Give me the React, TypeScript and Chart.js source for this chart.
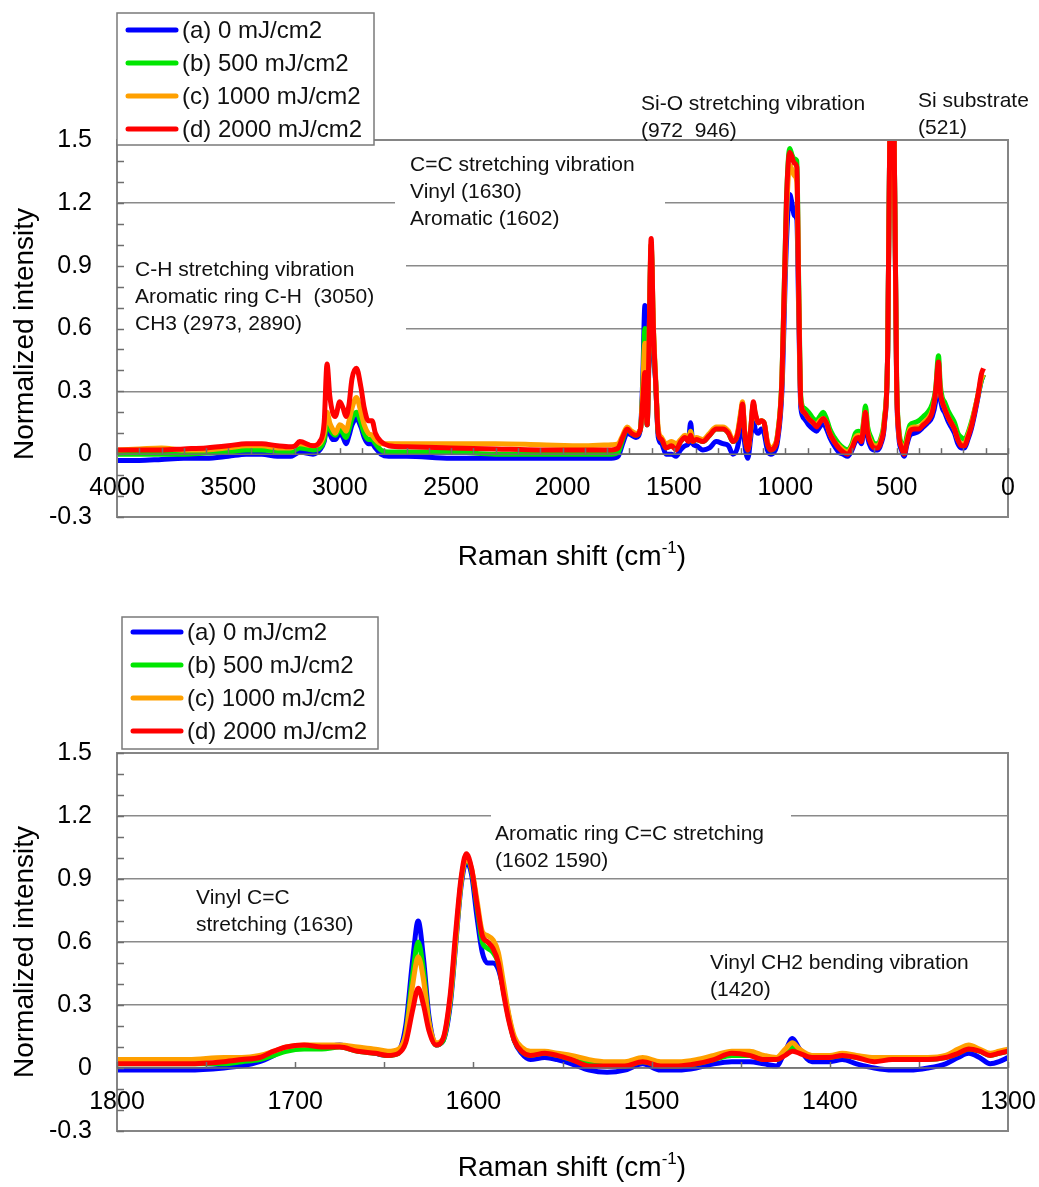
import React, { useEffect, useRef } from "react";
import { Chart, registerables } from "chart.js";
Chart.register(...registerables);

const FONT = '"Liberation Sans", Arial, Helvetica, sans-serif';

const SERIES_LABELS = ["(a) 0 mJ/cm2", "(b) 500 mJ/cm2", "(c) 1000 mJ/cm2", "(d) 2000 mJ/cm2"];
const SERIES_COLORS = ["#0000ff", "#00e600", "#ffa000", "#ff0000"];

// ---------- Top chart: full range (cm-1) ----------
const TOP_X = [
  4000, 3900, 3800, 3700, 3600, 3500, 3420, 3350, 3280, 3220,
  3200, 3180, 3120, 3090, 3070, 3057, 3045, 3032, 3020, 3000,
  2985, 2972, 2958, 2945, 2925, 2905, 2890, 2872, 2855, 2840,
  2815, 2780, 2700, 2500, 2300, 2100, 1900, 1780, 1750, 1730,
  1710, 1690, 1670, 1650, 1640, 1630, 1620, 1612, 1602, 1592,
  1582, 1570, 1555, 1535, 1510, 1490, 1470, 1450, 1435, 1425,
  1415, 1400, 1370, 1340, 1310, 1280, 1255, 1235, 1215, 1200,
  1192, 1182, 1168, 1155, 1143, 1135, 1120, 1108, 1095, 1080,
  1065, 1050, 1035, 1015, 995, 980, 970, 960, 948, 940,
  930, 915, 895, 875, 860, 845, 830, 815, 800, 780,
  760, 740, 720, 700, 685, 670, 658, 648, 640, 630,
  615, 600, 585, 570, 555, 540, 530, 521, 512, 500,
  490, 478, 466, 455, 440, 420, 400, 380, 360, 340,
  325, 312, 304, 295, 285, 270, 255, 240, 225, 210,
  195, 180, 165, 150, 135, 120, 110,
];
const TOP_A = [
  -0.03, -0.03, -0.025, -0.02, -0.02, -0.01, 0.0, 0.0, -0.01, -0.01,
  0.0, 0.01, 0.0, 0.02, 0.06, 0.13, 0.1, 0.07, 0.07, 0.1,
  0.08, 0.05, 0.09, 0.14, 0.17, 0.13, 0.08, 0.05, 0.05, 0.03,
  0.0, -0.01, -0.01, -0.02, -0.02, -0.02, -0.02, -0.02, -0.01, 0.05,
  0.1, 0.09, 0.08, 0.12, 0.35, 0.71, 0.14, 0.45, 0.98, 0.5,
  0.35, 0.08, 0.05, 0.0, 0.0, -0.01, 0.02, 0.04, 0.05, 0.15,
  0.05, 0.04, 0.02, 0.03, 0.06, 0.05, 0.04, 0.0, 0.03, 0.12,
  0.18, 0.05, -0.02, 0.08, 0.18, 0.12, 0.1, 0.12, 0.1, 0.02,
  0.0, 0.01, 0.06, 0.3, 1.0, 1.24, 1.2, 1.14, 1.12, 0.7,
  0.22, 0.17, 0.14, 0.12, 0.11, 0.13, 0.15, 0.12, 0.08, 0.04,
  0.01, 0.0, -0.01, 0.02, 0.06, 0.07, 0.05, 0.12, 0.17, 0.08,
  0.03, 0.02, 0.02, 0.05, 0.14, 0.5, 1.6, 3.0, 1.6, 0.33,
  0.08, 0.02, -0.01, 0.04, 0.09, 0.1, 0.11, 0.13, 0.15, 0.18,
  0.25, 0.38, 0.27, 0.22, 0.2, 0.16, 0.13, 0.1, 0.05, 0.03,
  0.03, 0.07, 0.12, 0.19, 0.27, 0.35, 0.38,
];
const TOP_B = [
  0.0, 0.0, 0.0, 0.0, 0.005, 0.01, 0.02, 0.02, 0.015, 0.01,
  0.02, 0.03, 0.02, 0.03, 0.07, 0.15, 0.12, 0.1, 0.09, 0.12,
  0.1, 0.08, 0.12, 0.17, 0.2, 0.15, 0.1, 0.07, 0.07, 0.05,
  0.02, 0.01, 0.01, 0.01, 0.0, 0.0, 0.0, 0.0, 0.01, 0.07,
  0.12, 0.1, 0.09, 0.12, 0.3, 0.6, 0.14, 0.48, 1.0, 0.6,
  0.35, 0.1, 0.07, 0.03, 0.04, 0.03, 0.06, 0.08, 0.07, 0.11,
  0.06, 0.07, 0.06, 0.09, 0.12, 0.12, 0.1, 0.06, 0.09, 0.19,
  0.24, 0.1, 0.02, 0.12, 0.24, 0.19, 0.15, 0.16, 0.15, 0.05,
  0.02, 0.03, 0.09, 0.36, 1.2, 1.46, 1.43, 1.41, 1.4, 0.85,
  0.27, 0.22, 0.2, 0.17, 0.16, 0.18, 0.2, 0.17, 0.12, 0.08,
  0.05, 0.03, 0.02, 0.05, 0.1, 0.11, 0.09, 0.16, 0.23, 0.13,
  0.08, 0.05, 0.05, 0.08, 0.17, 0.5, 1.6, 3.0, 1.6, 0.36,
  0.12, 0.05, 0.02, 0.08, 0.14, 0.15, 0.16, 0.18, 0.2, 0.24,
  0.31, 0.47, 0.33, 0.27, 0.25, 0.21, 0.18, 0.15, 0.1, 0.08,
  0.07, 0.1, 0.15, 0.21, 0.28, 0.35, 0.38,
];
const TOP_C = [
  0.02, 0.025, 0.03, 0.02, 0.02, 0.03, 0.04, 0.04, 0.03, 0.03,
  0.04, 0.05, 0.04, 0.05, 0.1, 0.2, 0.15, 0.12, 0.1, 0.14,
  0.13, 0.11, 0.16, 0.22, 0.27, 0.2, 0.14, 0.1, 0.09, 0.07,
  0.05, 0.05, 0.05, 0.05, 0.05, 0.045, 0.04, 0.045, 0.05, 0.09,
  0.13, 0.11, 0.1, 0.12, 0.3, 0.53, 0.15, 0.5, 1.0, 0.62,
  0.37, 0.12, 0.08, 0.05, 0.06, 0.05, 0.07, 0.09, 0.07, 0.11,
  0.07, 0.08, 0.07, 0.1, 0.13, 0.13, 0.11, 0.07, 0.1, 0.2,
  0.25, 0.11, 0.03, 0.12, 0.24, 0.19, 0.15, 0.16, 0.15, 0.06,
  0.03, 0.04, 0.09, 0.35, 1.12, 1.38, 1.36, 1.33, 1.3, 0.78,
  0.25, 0.2, 0.17, 0.15, 0.14, 0.16, 0.17, 0.15, 0.1, 0.06,
  0.04, 0.02, 0.01, 0.04, 0.08, 0.09, 0.07, 0.15, 0.2, 0.11,
  0.06, 0.04, 0.04, 0.07, 0.16, 0.5, 1.6, 3.0, 1.6, 0.35,
  0.1, 0.04, 0.01, 0.06, 0.12, 0.13, 0.13, 0.15, 0.17, 0.21,
  0.29, 0.42, 0.3, 0.25, 0.22, 0.18, 0.15, 0.12, 0.07, 0.05,
  0.05, 0.09, 0.14, 0.21, 0.28, 0.36, 0.38,
];
const TOP_D = [
  0.02, 0.02, 0.02, 0.025, 0.03, 0.04, 0.05, 0.05, 0.04, 0.035,
  0.04, 0.06, 0.04, 0.06, 0.15, 0.43, 0.28, 0.2, 0.18, 0.25,
  0.22, 0.18, 0.24, 0.36, 0.41, 0.32, 0.22, 0.16, 0.16, 0.1,
  0.06, 0.04, 0.035, 0.03, 0.025, 0.02, 0.02, 0.02, 0.03, 0.08,
  0.12, 0.1, 0.09, 0.12, 0.25, 0.39, 0.14, 0.5, 1.03, 0.6,
  0.35, 0.1, 0.07, 0.03, 0.04, 0.02, 0.06, 0.08, 0.06, 0.09,
  0.06, 0.07, 0.06, 0.09, 0.12, 0.12, 0.1, 0.06, 0.09, 0.18,
  0.24, 0.1, 0.02, 0.12, 0.25, 0.2, 0.15, 0.16, 0.15, 0.05,
  0.02, 0.03, 0.08, 0.35, 1.2, 1.44, 1.42, 1.39, 1.37, 0.8,
  0.25, 0.2, 0.17, 0.15, 0.13, 0.15, 0.17, 0.15, 0.1, 0.06,
  0.03, 0.01, 0.0, 0.03, 0.07, 0.08, 0.06, 0.14, 0.2, 0.1,
  0.05, 0.03, 0.03, 0.06, 0.15, 0.5, 1.6, 3.0, 1.6, 0.35,
  0.1, 0.03, 0.0, 0.05, 0.11, 0.12, 0.12, 0.14, 0.16, 0.2,
  0.3, 0.44, 0.3, 0.25, 0.22, 0.18, 0.15, 0.12, 0.07, 0.04,
  0.04, 0.08, 0.13, 0.2, 0.28, 0.38, 0.41,
];
const TOP_X_LABELS = [4000, 3500, 3000, 2500, 2000, 1500, 1000, 500, 0];

// ---------- Bottom chart: 1800-1300 cm-1 ----------
const BOT_X = [
  1800, 1780, 1760, 1740, 1730, 1720, 1712, 1705, 1695, 1685,
  1675, 1665, 1655, 1648, 1642, 1638, 1634, 1631, 1628, 1625,
  1621, 1617, 1613, 1610, 1607, 1604, 1601, 1598, 1595, 1592,
  1589, 1586, 1583, 1580, 1577, 1573, 1568, 1560, 1553, 1545,
  1535, 1525, 1515, 1505, 1495, 1485, 1475, 1465, 1455, 1445,
  1437, 1430, 1425, 1421, 1417, 1410, 1400, 1393, 1385, 1375,
  1365, 1355, 1345, 1335, 1328, 1322, 1316, 1310, 1305, 1300,
];
const BOT_A = [
  -0.01, -0.01, -0.01, 0.0, 0.01, 0.03, 0.06, 0.09, 0.1, 0.1,
  0.11, 0.09, 0.07, 0.06, 0.08, 0.2, 0.52, 0.7, 0.52, 0.25,
  0.11, 0.13, 0.3, 0.58, 0.86, 0.98, 0.92, 0.72, 0.55, 0.5,
  0.5, 0.47, 0.37, 0.24, 0.13, 0.07, 0.04, 0.05, 0.04, 0.02,
  -0.01, -0.02, -0.01, 0.02, -0.01, -0.01, 0.0, 0.02, 0.03, 0.03,
  0.02, 0.01, 0.08, 0.14, 0.09, 0.03, 0.03, 0.04, 0.02, 0.0,
  -0.01, -0.01, 0.0, 0.02, 0.05, 0.07, 0.05, 0.02, 0.03, 0.05,
];
const BOT_B = [
  0.02, 0.02, 0.02, 0.02, 0.03, 0.04, 0.06, 0.08, 0.09, 0.09,
  0.1, 0.08, 0.07, 0.06, 0.07, 0.16, 0.45, 0.6, 0.46, 0.22,
  0.11, 0.13, 0.32, 0.6, 0.88, 1.0, 0.94, 0.77, 0.6, 0.57,
  0.55, 0.5, 0.36, 0.23, 0.13, 0.08, 0.06, 0.07, 0.06, 0.04,
  0.02, 0.01, 0.01, 0.03, 0.01, 0.01, 0.02, 0.04, 0.06, 0.06,
  0.04, 0.04, 0.07, 0.1, 0.08, 0.05, 0.05, 0.06, 0.05, 0.04,
  0.04, 0.04, 0.04, 0.05, 0.07, 0.09, 0.08, 0.06, 0.07, 0.08,
];
const BOT_C = [
  0.04, 0.04, 0.04, 0.05, 0.05, 0.06, 0.08, 0.1, 0.11, 0.11,
  0.11, 0.1, 0.09, 0.08, 0.09, 0.16, 0.4, 0.53, 0.42, 0.22,
  0.12, 0.14, 0.33, 0.6, 0.88, 1.0, 0.95, 0.8, 0.65, 0.63,
  0.61, 0.55, 0.4, 0.25, 0.15, 0.1, 0.08, 0.08, 0.07, 0.06,
  0.04, 0.03, 0.03, 0.05, 0.03, 0.03, 0.04, 0.06, 0.08, 0.08,
  0.06, 0.05, 0.09, 0.12, 0.09, 0.06, 0.06, 0.07, 0.06, 0.05,
  0.05, 0.05, 0.05, 0.06, 0.09, 0.11, 0.09, 0.07, 0.08, 0.09,
];
const BOT_D = [
  0.02, 0.02, 0.02, 0.03, 0.04, 0.05, 0.08, 0.1, 0.11, 0.1,
  0.1, 0.08, 0.07, 0.06, 0.07, 0.12, 0.28, 0.38, 0.3, 0.18,
  0.11, 0.14, 0.35, 0.64, 0.9, 1.02, 0.95, 0.78, 0.63, 0.6,
  0.57, 0.5, 0.35, 0.22, 0.13, 0.08, 0.06, 0.07, 0.06, 0.04,
  0.01, 0.01, 0.01, 0.03, 0.01, 0.01, 0.02, 0.04, 0.07, 0.06,
  0.04, 0.04, 0.06, 0.08, 0.07, 0.05, 0.05, 0.06, 0.05, 0.03,
  0.04, 0.04, 0.04, 0.05, 0.07, 0.09, 0.08, 0.06, 0.07, 0.08,
];
const BOT_X_LABELS = [1800, 1700, 1600, 1500, 1400, 1300];

const Y_MIN = -0.3;
const Y_MAX = 1.5;
const Y_STEP = 0.3;

const TOP_NOTES = [
  { x: 135, y: 270, lines: ["C-H stretching vibration", "Aromatic ring C-H  (3050)", "CH3 (2973, 2890)"] },
  { x: 410, y: 165, lines: ["C=C stretching vibration", "Vinyl (1630)", "Aromatic (1602)"] },
  { x: 641, y: 104, lines: ["Si-O stretching vibration", "(972  946)"] },
  { x: 918, y: 101, lines: ["Si substrate", "(521)"] },
];
const BOT_NOTES = [
  { x: 196, y: 308, lines: ["Vinyl C=C", "stretching (1630)"] },
  { x: 495, y: 244, lines: ["Aromatic ring C=C stretching", "(1602 1590)"] },
  { x: 710, y: 373, lines: ["Vinyl CH2 bending vibration", "(1420)"] },
];

type Cfg = {
  height: number;
  padTop: number;
  padBottom: number;
  xMin: number;
  xMax: number;
  xMinor: number;
  xLabels: number[];
  xs: number[];
  ys: number[][];
  notes: { x: number; y: number; lines: string[] }[];
  boxes: number[][];
  legend: { x: number; y: number; w: number; h: number; rows: number[]; lx: number };
  yTitle: { x: number; y: number };
  xTitle: { x: number; y: number };
};

const TOP_CFG: Cfg = {
  height: 590,
  padTop: 140,
  padBottom: 73,
  xMin: 0,
  xMax: 4000,
  xMinor: 100,
  xLabels: TOP_X_LABELS,
  xs: TOP_X,
  ys: [TOP_A, TOP_B, TOP_C, TOP_D],
  notes: TOP_NOTES,
  boxes: [
    [118, 256, 288, 82],
    [395, 151, 270, 82],
  ],
  legend: { x: 117, y: 13, w: 257, h: 132, rows: [30, 63, 96, 129], lx: 128 },
  yTitle: { x: 25, y: 334 },
  xTitle: { x: 572, y: 557 },
};

const BOT_CFG: Cfg = {
  height: 597,
  padTop: 163,
  padBottom: 56,
  xMin: 1300,
  xMax: 1800,
  xMinor: 50,
  xLabels: BOT_X_LABELS,
  xs: BOT_X,
  ys: [BOT_A, BOT_B, BOT_C, BOT_D],
  notes: BOT_NOTES,
  boxes: [[491, 221, 300, 56]],
  legend: { x: 122, y: 27, w: 256, h: 132, rows: [42, 75, 108, 141], lx: 133 },
  yTitle: { x: 25, y: 362 },
  xTitle: { x: 572, y: 578 },
};

function line(ctx: CanvasRenderingContext2D, x1: number, y1: number, x2: number, y2: number) {
  ctx.beginPath();
  ctx.moveTo(x1, y1);
  ctx.lineTo(x2, y2);
  ctx.stroke();
}

function decor(cfg: Cfg) {
  return {
    id: "decor",
    beforeDatasetsDraw(chart: any) {
      const ctx = chart.ctx as CanvasRenderingContext2D;
      ctx.save();
      ctx.fillStyle = "#ffffff";
      cfg.boxes.forEach((b) => ctx.fillRect(b[0], b[1], b[2], b[3]));
      ctx.restore();
    },
    afterDatasetsDraw(chart: any) {
      const ctx = chart.ctx as CanvasRenderingContext2D;
      const ca = chart.chartArea;
      const xs = chart.scales.x;
      const ys = chart.scales.y;
      ctx.save();
      // frame
      ctx.strokeStyle = "#858585";
      ctx.lineWidth = 2;
      ctx.strokeRect(ca.left, ca.top, ca.right - ca.left, ca.bottom - ca.top);
      // zero axis line
      const y0 = ys.getPixelForValue(0);
      ctx.strokeStyle = "#6e6e6e";
      ctx.lineWidth = 1.5;
      line(ctx, ca.left, y0, ca.right, y0);
      // x minor ticks (inward, up)
      for (let v = cfg.xMin; v <= cfg.xMax; v += cfg.xMinor) {
        const px = Math.round(xs.getPixelForValue(v)) + 0.5;
        line(ctx, px, y0, px, y0 - 6);
      }
      // y minor ticks (inward, right)
      for (let k = Math.round(Y_MIN * 10); k <= Math.round(Y_MAX * 10); k++) {
        const py = Math.round(ys.getPixelForValue(k / 10)) + 0.5;
        line(ctx, ca.left, py, ca.left + 7, py);
      }
      // x tick labels on the zero line
      ctx.fillStyle = "#000";
      ctx.font = `25px ${FONT}`;
      ctx.textAlign = "center";
      ctx.textBaseline = "middle";
      cfg.xLabels.forEach((v) => ctx.fillText(String(v), xs.getPixelForValue(v), y0 + 34));
      // annotations
      ctx.fillStyle = "#111";
      ctx.font = `21px ${FONT}`;
      ctx.textAlign = "left";
      cfg.notes.forEach((n) => n.lines.forEach((t, i) => ctx.fillText(t, n.x, n.y + i * 27)));
      // y title
      ctx.save();
      ctx.translate(cfg.yTitle.x, cfg.yTitle.y);
      ctx.rotate(-Math.PI / 2);
      ctx.font = `28px ${FONT}`;
      ctx.fillStyle = "#000";
      ctx.textAlign = "center";
      ctx.textBaseline = "middle";
      ctx.fillText("Normalized intensity", 0, 0);
      ctx.restore();
      // x title with superscript
      ctx.fillStyle = "#000";
      ctx.textBaseline = "middle";
      ctx.textAlign = "left";
      const big = `28px ${FONT}`;
      const small = `17px ${FONT}`;
      const p1 = "Raman shift (cm";
      const p2 = "-1";
      const p3 = ")";
      ctx.font = big;
      const w1 = ctx.measureText(p1).width;
      const w3 = ctx.measureText(p3).width;
      ctx.font = small;
      const w2 = ctx.measureText(p2).width;
      let tx = cfg.xTitle.x - (w1 + w2 + w3) / 2;
      ctx.font = big;
      ctx.fillText(p1, tx, cfg.xTitle.y);
      tx += w1;
      ctx.font = small;
      ctx.fillText(p2, tx, cfg.xTitle.y - 9);
      tx += w2;
      ctx.font = big;
      ctx.fillText(p3, tx, cfg.xTitle.y);
      // legend
      const L = cfg.legend;
      ctx.fillStyle = "#ffffff";
      ctx.fillRect(L.x, L.y, L.w, L.h);
      ctx.strokeStyle = "#7a7a7a";
      ctx.lineWidth = 1.5;
      ctx.strokeRect(L.x, L.y, L.w, L.h);
      ctx.font = `24px ${FONT}`;
      ctx.textAlign = "left";
      ctx.textBaseline = "middle";
      L.rows.forEach((ry, i) => {
        ctx.strokeStyle = SERIES_COLORS[i];
        ctx.lineWidth = 5;
        ctx.lineCap = "round";
        line(ctx, L.lx, ry, L.lx + 48, ry);
        ctx.fillStyle = "#111";
        ctx.fillText(SERIES_LABELS[i], L.lx + 54, ry + 1);
      });
      ctx.restore();
    },
  };
}

function SpectrumChart({ cfg }: { cfg: Cfg }) {
  const ref = useRef<HTMLCanvasElement | null>(null);
  useEffect(() => {
    if (!ref.current) return;
    const n = cfg.ys.length;
    const datasets = cfg.ys.map((ys, k) => ({
      label: SERIES_LABELS[k],
      data: cfg.xs.map((x, i) => ({ x, y: ys[i] })),
      borderColor: SERIES_COLORS[k],
      backgroundColor: SERIES_COLORS[k],
      borderWidth: 5,
      pointRadius: 0,
      fill: false,
      cubicInterpolationMode: "monotone" as const,
      clip: 0,
      order: n - 1 - k,
    }));
    const chart = new Chart(ref.current, {
      type: "line",
      data: { datasets },
      options: {
        animation: false,
        responsive: false,
        devicePixelRatio: 1,
        layout: { padding: { top: cfg.padTop, right: 31, bottom: cfg.padBottom, left: 0 } },
        plugins: { legend: { display: false }, tooltip: { enabled: false } },
        scales: {
          x: {
            type: "linear",
            min: cfg.xMin,
            max: cfg.xMax,
            reverse: true,
            display: false,
          },
          y: {
            type: "linear",
            min: Y_MIN,
            max: Y_MAX,
            afterFit: (scale: any) => {
              scale.width = 117;
            },
            ticks: {
              stepSize: Y_STEP,
              padding: 25,
              color: "#000",
              font: { family: FONT, size: 25 },
              callback: (v: any) => String(Math.round(Number(v) * 10) / 10),
            },
            grid: { color: "#8a8a8a", lineWidth: 1.5, drawTicks: false },
            border: { display: false },
          },
        },
      },
      plugins: [decor(cfg)],
    });
    return () => chart.destroy();
  }, [cfg]);
  return (
    <canvas
      ref={ref}
      width={1039}
      height={cfg.height}
      style={{ display: "block", width: 1039, height: cfg.height }}
    />
  );
}

export default function App() {
  return (
    <div style={{ position: "absolute", left: 0, top: 0, width: 1039, height: 1187, background: "#fff" }}>
      <SpectrumChart cfg={TOP_CFG} />
      <SpectrumChart cfg={BOT_CFG} />
    </div>
  );
}
